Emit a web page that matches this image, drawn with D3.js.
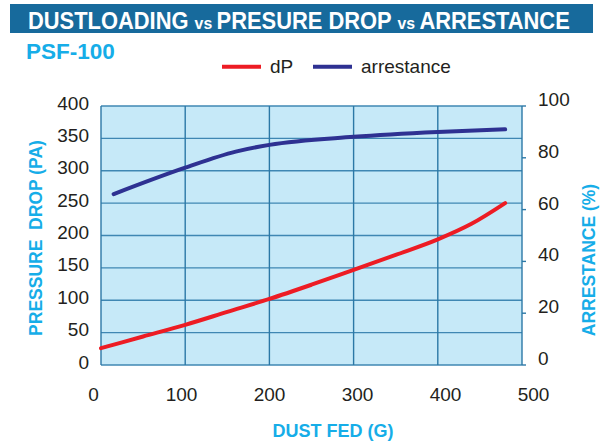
<!DOCTYPE html>
<html>
<head>
<meta charset="utf-8">
<script src="https://cdn.jsdelivr.net/npm/d3@7"></script>
<style>
  body { margin: 0; background: #fff; }
  svg { font-family: "Liberation Sans", Arial, sans-serif; }
</style>
</head>
<body>
<div id="chart"></div>
<script>
// Dust loading vs pressure drop vs arrestance (PSF-100)

var xTicks = [0, 100, 200, 300, 400, 500];
var leftTicks = [0, 50, 100, 150, 200, 250, 300, 350, 400];
var rightTicks = [0, 20, 40, 60, 80, 100];

// dP series (Pa)
var dpFed = [0, 50, 100, 150, 200, 250, 300, 350, 400, 440, 480];
var dpValues = [26, 44, 62, 82, 102, 124, 147, 170, 194, 218, 250];

// arrestance series (%)
var arrFed = [15, 100, 160, 200, 300, 400, 480];
var arrValues = [66, 76.2, 82.4, 85, 88.1, 90, 91];

var svgWidth = 601;
var svgHeight = 441;

var margin = { top: 106, bottom: 76, left: 101, right: 79 };
var width = svgWidth - margin.left - margin.right;
var height = svgHeight - margin.top - margin.bottom;

var cyan = "#16ade8";
var gridColor = "#2b78a6";

var svg = d3.select("#chart")
  .append("svg")
  .attr("width", svgWidth)
  .attr("height", svgHeight);

// title bar
svg.append("rect")
  .attr("x", 10).attr("y", 4)
  .attr("width", 583).attr("height", 29)
  .attr("fill", "#176a9c");

var title = svg.append("text")
  .attr("fill", "#fff")
  .attr("font-weight", "bold");
[["DUSTLOADING ", 23.5], ["vs ", 17], ["PRESURE DROP ", 23.5], ["vs ", 17], ["ARRESTANCE", 23.5]]
  .forEach(function(p) {
    title.append("tspan").attr("font-size", p[1]).text(p[0]);
  });
var tw = title.node().getComputedTextLength();
title.attr("transform", `translate(28, 28.5) scale(${542 / tw}, 1)`);

svg.append("text")
  .attr("x", 26).attr("y", 59)
  .attr("fill", cyan)
  .attr("font-size", 22.5)
  .attr("font-weight", "bold")
  .text("PSF-100");

// legend
var legend = [
  { name: "dP", color: "#ed1c24", x: 222 },
  { name: "arrestance", color: "#2e3192", x: 313 }
];
legend.forEach(function(d) {
  svg.append("line")
    .attr("x1", d.x).attr("x2", d.x + 39)
    .attr("y1", 66.7).attr("y2", 66.7)
    .attr("stroke", d.color)
    .attr("stroke-width", 4);
  svg.append("text")
    .attr("x", d.x + 48).attr("y", 72.5)
    .attr("font-size", 19)
    .attr("fill", "#231f20")
    .text(d.name);
});

var chartGroup = svg.append("g")
  .attr("transform", `translate(${margin.left}, ${margin.top})`);

// scales
var xScale = d3.scaleLinear().domain([0, 500]).range([0, width]);
var xLabelScale = d3.scaleLinear().domain([0, 500]).range([-8, width + 11]);
var yLeft = d3.scaleLinear().domain([0, 400]).range([height, 0]);
var yRight = d3.scaleLinear().domain([0, 100]).range([height, 0]);

// plot area
chartGroup.append("rect")
  .attr("width", width).attr("height", height)
  .attr("fill", "#c6e9f8");

chartGroup.selectAll("line.hgrid")
  .data(leftTicks)
  .join("line")
  .attr("class", "hgrid")
  .attr("x1", 0).attr("x2", width)
  .attr("y1", d => yLeft(d)).attr("y2", d => yLeft(d))
  .attr("stroke", "#3f87b3")
  .attr("stroke-width", 1.4);

chartGroup.selectAll("line.vgrid")
  .data(xTicks)
  .join("line")
  .attr("class", "vgrid")
  .attr("x1", d => xScale(d)).attr("x2", d => xScale(d))
  .attr("y1", 0).attr("y2", height)
  .attr("stroke", gridColor)
  .attr("stroke-width", 1.4);

// right tick marks
chartGroup.selectAll("line.rtick")
  .data(rightTicks)
  .join("line")
  .attr("class", "rtick")
  .attr("x1", width).attr("x2", width + 4)
  .attr("y1", d => yRight(d)).attr("y2", d => yRight(d))
  .attr("stroke", gridColor)
  .attr("stroke-width", 1.4);

// axes labels
var yAxisLeft = d3.axisLeft(yLeft).tickValues(leftTicks).tickSize(0).tickPadding(12);
var gl = chartGroup.append("g").call(yAxisLeft);
gl.select(".domain").remove();
gl.selectAll("text")
  .attr("font-size", 19)
  .attr("font-family", "Liberation Sans, Arial, sans-serif")
  .attr("fill", "#231f20")
  .attr("dy", "0.16em");

var yAxisRight = d3.axisRight(yRight).tickValues(rightTicks).tickSize(0).tickPadding(16);
var gr = chartGroup.append("g").attr("transform", `translate(${width}, 0)`).call(yAxisRight);
gr.select(".domain").remove();
gr.selectAll("text")
  .attr("font-size", 19)
  .attr("font-family", "Liberation Sans, Arial, sans-serif")
  .attr("fill", "#231f20")
  .attr("dy", "-0.03em");

var xAxis = d3.axisBottom(xLabelScale).tickValues(xTicks).tickSize(0).tickPadding(0);
var gx = chartGroup.append("g").attr("transform", `translate(0, ${height + 35.7})`).call(xAxis);
gx.select(".domain").remove();
gx.selectAll("text")
  .attr("font-size", 19)
  .attr("font-family", "Liberation Sans, Arial, sans-serif")
  .attr("fill", "#231f20")
  .attr("y", 0)
  .attr("dy", null);

// lines
var dpLine = d3.line()
  .x((d, i) => xScale(dpFed[i]))
  .y(d => yLeft(d))
  .curve(d3.curveMonotoneX);
var arrLine = d3.line()
  .x((d, i) => xScale(arrFed[i]))
  .y(d => yRight(d))
  .curve(d3.curveMonotoneX);

chartGroup.append("path")
  .attr("d", arrLine(arrValues))
  .attr("fill", "none")
  .attr("stroke", "#2e3192")
  .attr("stroke-width", 4)
  .attr("stroke-linecap", "round");

chartGroup.append("path")
  .attr("d", dpLine(dpValues))
  .attr("fill", "none")
  .attr("stroke", "#ed1c24")
  .attr("stroke-width", 4)
  .attr("stroke-linecap", "round");

// axis titles
svg.append("text")
  .attr("transform", "translate(41.5, 238) rotate(-90)")
  .attr("text-anchor", "middle")
  .attr("font-size", 17.5)
  .attr("font-weight", "bold")
  .attr("fill", cyan)
  .style("white-space", "pre")
  .text("PRESSURE  DROP (PA)");

svg.append("text")
  .attr("transform", "translate(595, 260) rotate(-90)")
  .attr("text-anchor", "middle")
  .attr("font-size", 17.5)
  .attr("font-weight", "bold")
  .attr("fill", cyan)
  .text("ARRESTANCE (%)");

svg.append("text")
  .attr("x", 333).attr("y", 437)
  .attr("text-anchor", "middle")
  .attr("font-size", 18)
  .attr("font-weight", "bold")
  .attr("fill", cyan)
  .text("DUST FED (G)");
</script>
</body>
</html>
